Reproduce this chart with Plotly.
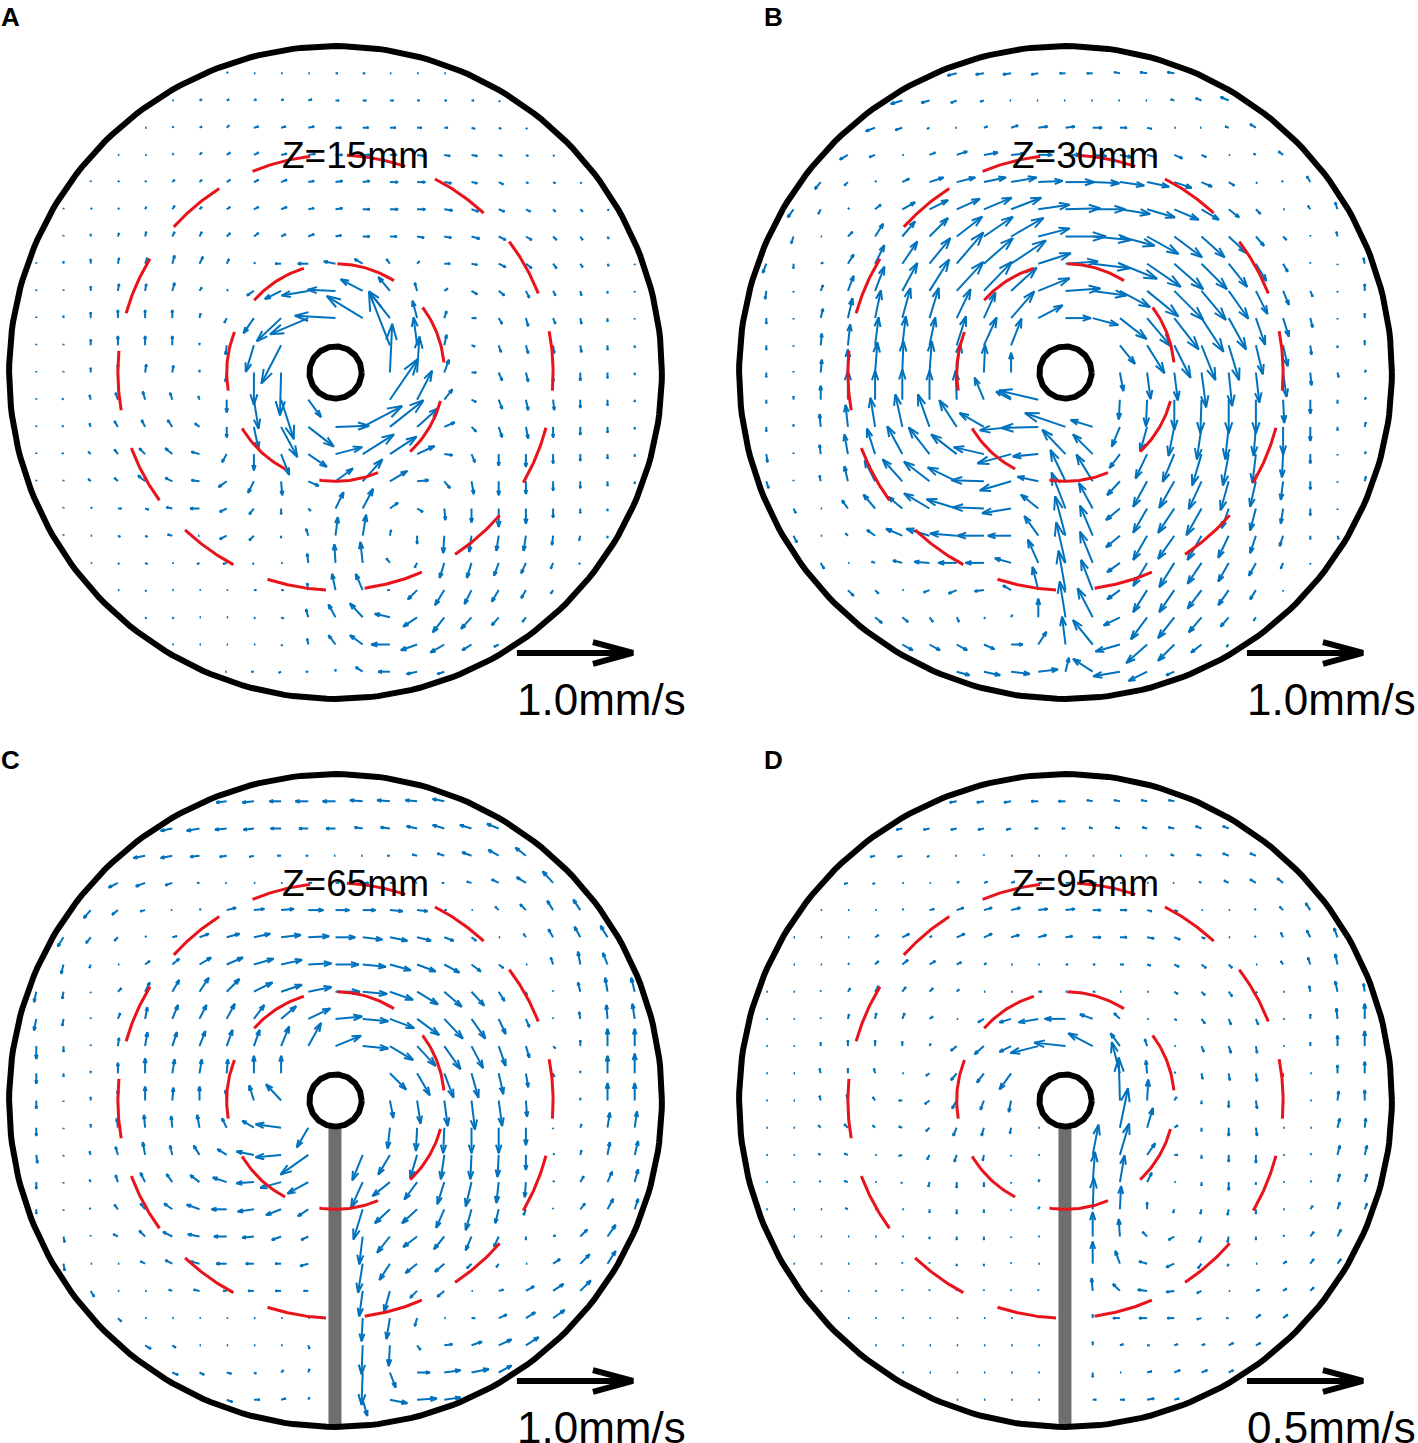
import math
import plotly.graph_objects as go

# first grid column of each row, rows run top (-11) to bottom (+11), tank radius = 12 grid cells
ROW_START = [-4, -6, -7, -8, -9, -10, -10, -11, -11, -11, -11, -11, -11, -11, -11, -11, -10, -10, -9, -8, -7, -6, -4]

# arrow (u, v) per grid point, in percent of the reference arrow, v upward
A_VECTORS = [
    [(1,1),(1,0),(1,0),(1,0),(2,0),(2,0),(1,0),(1,0),(1,0)],
    [(1,0),(2,1),(2,1),(2,1),(2,1),(3,1),(3,0),(3,0),(3,0),(2,0),(2,0),(2,0),(1,-1)],
    [(1,0),(1,1),(2,1),(2,2),(4,1),(4,1),(5,1),(5,0),(5,0),(5,0),(4,0),(3,0),(3,-1),(2,-1),(1,-1)],
    [(1,0),(1,0),(1,1),(2,2),(3,2),(4,2),(5,1),(6,1),(6,0),(6,0),(6,0),(6,-1),(5,-1),(5,-1),(3,-1),(2,-1),(1,-1)],
    [(0,1),(1,1),(1,1),(2,2),(2,2),(3,2),(4,2),(5,2),(5,1),(6,1),(6,1),(7,0),(7,0),(6,-1),(5,-1),(4,-2),(2,-1),(2,-1),(1,-1)],
    [(0,1),(1,1),(1,1),(1,2),(2,3),(2,2),(3,2),(4,2),(5,2),(5,1),(6,1),(6,0),(7,0),(7,0),(7,-1),(6,-2),(5,-2),(4,-2),(2,-2),(2,-2),(1,-1)],
    [(0,1),(0,2),(1,3),(1,4),(2,4),(2,4),(3,3),(4,3),(4,2),(5,2),(5,1),(6,0),(6,0),(6,-1),(6,-1),(7,-2),(6,-3),(5,-3),(3,-3),(2,-3),(1,-2)],
    [(0,1),(0,2),(0,4),(1,5),(2,5),(2,7),(3,6),(2,4),(1,1),(-5,0),(-9,0),(-10,2),(-7,4),(-3,4),(2,2),(5,0),(5,-1),(6,-3),(5,-4),(3,-4),(2,-3),(1,-2),(0,-1)],
    [(0,1),(0,1),(0,4),(1,6),(1,6),(2,7),(2,3),(1,1),(-6,-4),(-14,-7),(-23,-4),(-24,1),(-19,10),(-10,12),(-2,7),(3,2),(5,-3),(5,-4),(3,-6),(2,-4),(1,-4),(0,-2),(0,-1)],
    [(0,1),(0,2),(0,5),(0,7),(0,7),(0,7),(1,4),(-2,-4),(-9,-13),(-21,-20),(-33,-14),(-35,2),(-31,19),(-18,23),(-4,15),(2,6),(4,0),(3,-5),(2,-7),(2,-5),(1,-5),(0,-3),(0,-1)],
    [(0,1),(0,1),(0,5),(0,8),(0,8),(0,8),(0,2),(-1,-8),(-7,-23),(-17,-33),(0,0),(0,0),(0,0),(-18,46),(-3,24),(2,9),(3,-1),(2,-6),(2,-7),(1,-7),(1,-6),(0,-4),(0,-2)],
    [(0,1),(0,1),(0,4),(0,7),(1,7),(1,6),(0,2),(-1,-8),(0,-28),(-1,-37),(0,0),(0,0),(0,0),(2,42),(2,31),(4,11),(4,0),(3,-7),(2,-8),(0,-8),(0,-7),(0,-5),(0,-2)],
    [(0,1),(-1,1),(-1,4),(-2,6),(-2,7),(-2,6),(-1,3),(0,-11),(4,-25),(11,-34),(11,-15),(0,0),(0,0),(24,35),(13,25),(7,9),(4,-2),(3,-8),(2,-9),(1,-9),(0,-7),(0,-5),(0,-2)],
    [(0,1),(-1,1),(-1,3),(-3,5),(-3,6),(-4,6),(-4,3),(0,-9),(4,-19),(14,-26),(22,-17),(29,1),(34,18),(29,23),(18,16),(9,4),(4,-4),(3,-9),(2,-10),(0,-9),(0,-7),(0,-5),(0,-2)],
    [(0,1),(-1,1),(-2,2),(-3,4),(-5,5),(-6,5),(-7,2),(-4,-7),(0,-14),(7,-18),(16,-11),(23,6),(27,17),(23,15),(15,7),(7,-1),(3,-7),(0,-10),(0,-11),(0,-8),(0,-6),(0,-4),(0,-2)],
    [(0,1),(0,1),(-2,2),(-3,3),(-6,5),(-6,3),(-7,1),(-7,-5),(-5,-10),(1,-12),(9,-4),(15,11),(17,19),(15,9),(10,1),(5,-6),(2,-11),(0,-12),(0,-11),(0,-8),(0,-6),(0,-4),(0,-2)],
    [(0,1),(1,1),(3,0),(3,-1),(-5,1),(-8,0),(-6,-3),(-4,-5),(0,-5),(2,-2),(7,14),(9,17),(7,5),(5,-3),(1,-10),(0,-12),(0,-16),(0,-13),(0,-8),(0,-4),(0,-2)],
    [(0,1),(1,0),(2,-1),(2,-1),(-4,1),(-1,0),(-6,-3),(-4,-4),(0,-2),(-2,6),(2,16),(3,18),(1,5),(0,-7),(-1,-15),(-2,-14),(-2,-13),(-2,-13),(-1,-8),(-1,-4),(0,-2)],
    [(1,0),(1,-1),(2,-1),(1,0),(-2,-1),(-3,-1),(-1,-1),(1,0),(-1,8),(-1,16),(-2,18),(-3,4),(-2,-4),(-4,-13),(-4,-13),(-4,-11),(-4,-9),(-2,-5),(-1,-1)],
    [(1,0),(1,-1),(1,0),(1,0),(1,0),(2,0),(2,0),(-1,6),(-3,14),(-6,14),(-2,0),(-8,-8),(-8,-13),(-6,-12),(-6,-10),(-4,-7),(-2,-3)],
    [(1,-1),(1,-1),(1,0),(1,0),(1,-1),(2,-1),(-2,7),(-6,11),(-11,12),(-13,3),(-12,-8),(-10,-13),(-9,-10),(-6,-7),(-3,-4)],
    [(1,0),(1,0),(1,0),(1,0),(1,-1),(-1,5),(-6,8),(-11,8),(-16,0),(-14,-5),(-12,-7),(-8,-5),(-4,-2)],
    [(-1,0),(-2,0),(-2,-1),(-2,0),(0,2),(-6,4),(-10,0),(-9,-2),(-6,-2)],
]

B_VECTORS = [
    [(-8,-2),(-7,-1),(-7,-1),(-6,-1),(-5,0),(-5,0),(-5,1),(-6,1),(-6,1)],
    [(-10,-3),(-7,-2),(-5,-2),(-3,-1),(-1,0),(-1,0),(-1,0),(-1,0),(-1,0),(-1,0),(-3,1),(-5,2),(-7,3)],
    [(-8,-3),(-6,-2),(-2,-1),(-1,0),(3,1),(6,2),(8,1),(8,1),(8,0),(6,0),(4,-1),(1,0),(-1,0),(-3,1),(-5,3)],
    [(-7,-4),(-5,-2),(1,0),(5,2),(9,3),(12,2),(12,1),(12,0),(13,0),(12,-1),(10,-2),(8,-2),(7,-3),(4,-2),(1,0),(-2,1),(-4,3)],
    [(-5,-6),(-3,-3),(1,1),(6,3),(12,4),(16,4),(19,4),(22,4),(21,1),(25,0),(23,-1),(21,-3),(19,-4),(15,-5),(9,-4),(5,-3),(1,-1),(-1,1),(-3,5)],
    [(-5,-7),(-2,-4),(1,1),(5,4),(11,6),(16,8),(20,9),(24,10),(26,10),(27,4),(30,1),(28,0),(26,-4),(24,-7),(21,-9),(15,-9),(9,-7),(4,-4),(1,0),(-2,3),(-2,6)],
    [(-2,-6),(1,0),(4,4),(7,11),(11,13),(16,16),(22,17),(25,17),(28,16),(27,7),(35,0),(33,-3),(30,-8),(27,-15),(24,-18),(20,-18),(15,-14),(7,-8),(3,-3),(0,1),(-1,4)],
    [(-3,-8),(0,-4),(2,1),(5,8),(8,16),(13,19),(18,22),(23,27),(25,22),(30,20),(28,9),(28,2),(32,-4),(32,-13),(29,-20),(25,-22),(22,-22),(16,-20),(9,-15),(4,-7),(0,1),(0,-1),(-1,5)],
    [(-1,-7),(0,-1),(2,5),(5,13),(8,21),(13,24),(17,27),(23,25),(24,25),(22,20),(27,11),(30,2),(29,-4),(26,-14),(27,-22),(25,-25),(21,-25),(17,-24),(10,-20),(5,-12),(2,-5),(0,-1),(0,6)],
    [(0,-5),(0,-1),(2,8),(4,17),(5,24),(7,26),(8,26),(12,25),(10,22),(20,23),(21,11),(22,0),(22,-6),(23,-18),(20,-24),(21,-27),(19,-29),(15,-27),(8,-23),(5,-16),(2,-8),(0,-1),(0,4)],
    [(0,-4),(0,-1),(1,10),(2,18),(3,24),(3,25),(5,24),(8,25),(11,24),(9,23),(0,0),(0,0),(0,0),(13,-16),(15,-24),(14,-28),(12,-30),(9,-30),(6,-25),(4,-18),(1,-8),(0,-2),(0,4)],
    [(0,-4),(0,1),(1,11),(0,20),(2,26),(1,27),(2,27),(3,25),(1,24),(0,17),(0,0),(0,0),(0,0),(3,-16),(3,-23),(3,-24),(4,-30),(3,-29),(3,-26),(3,-21),(1,-11),(1,-4),(1,2)],
    [(0,-3),(0,3),(0,12),(0,25),(0,25),(0,26),(0,25),(-1,25),(-8,19),(-13,7),(-34,8),(0,0),(0,0),(-1,-17),(-1,-23),(0,-26),(-1,-29),(0,-29),(0,-29),(1,-20),(0,-12),(0,-3),(1,2)],
    [(0,-4),(0,2),(-1,11),(-2,19),(-4,25),(-6,28),(-10,28),(-15,23),(-21,12),(-27,-3),(-32,-1),(-35,12),(-19,6),(-7,-17),(-6,-21),(-5,-25),(-4,-28),(-3,-28),(-2,-25),(0,-24),(0,-12),(0,-3),(1,4)],
    [(1,-7),(0,1),(-1,8),(-3,17),(-7,22),(-13,24),(-18,23),(-22,17),(-26,6),(-29,-8),(-22,-2),(-20,21),(-17,17),(-9,-12),(-10,-21),(-10,-24),(-8,-27),(-5,-27),(-3,-25),(-1,-20),(0,-8),(0,-1),(1,2)],
    [(2,-6),(0,1),(-1,5),(-3,13),(-9,18),(-17,19),(-22,17),(-25,12),(-28,1),(-27,-8),(-18,4),(-13,27),(-14,23),(-11,-12),(-12,-22),(-13,-23),(-11,-24),(-7,-25),(-5,-22),(-2,-16),(0,-7),(0,-1),(1,4)],
    [(2,-4),(1,0),(-5,7),(-10,12),(-12,10),(-22,13),(-26,8),(-27,1),(-25,-4),(-15,12),(-12,31),(-12,22),(-12,-10),(-12,-21),(-14,-21),(-13,-23),(-6,-17),(-5,-19),(-2,-13),(0,-6),(0,-1)],
    [(3,-6),(1,0),(-2,2),(-7,5),(-14,6),(-20,6),(-23,2),(-23,0),(-20,0),(-12,17),(-9,34),(-11,26),(-12,-10),(-12,-21),(-14,-20),(-12,-21),(-9,-19),(-5,-15),(-3,-9),(0,-3),(1,-3)],
    [(3,-5),(1,0),(-3,1),(-8,2),(-13,1),(-16,0),(-16,0),(-14,4),(-9,20),(-8,35),(-11,27),(-11,-8),(-12,-20),(-13,-21),(-12,-18),(-9,-16),(-6,-11),(-2,-5),(0,-1)],
    [(5,-5),(3,-3),(1,0),(-5,-2),(-7,-3),(-8,-1),(-7,4),(-5,20),(-6,34),(-10,26),(-11,-8),(-12,-19),(-13,-19),(-12,-16),(-9,-13),(-5,-8),(0,-1)],
    [(6,-5),(5,-4),(3,-4),(2,-4),(1,-1),(1,2),(0,16),(-5,31),(-13,25),(-14,-7),(-14,-19),(-14,-18),(-11,-13),(-7,-8),(-2,-3)],
    [(9,-5),(9,-5),(9,-5),(9,-4),(10,0),(7,11),(-3,24),(-17,21),(-21,-6),(-18,-16),(-14,-14),(-9,-7),(-2,-2)],
    [(11,-3),(14,-3),(16,-2),(17,2),(3,12),(-17,11),(-23,-4),(-16,-8),(-7,-3)],
]

C_VECTORS = [
    [(-9,-1),(-10,-1),(-10,0),(-11,0),(-11,0),(-11,1),(-11,1),(-10,1),(-10,2)],
    [(-10,-2),(-11,-2),(-10,-1),(-9,-1),(-9,0),(-8,0),(-8,0),(-7,1),(-8,1),(-9,2),(-10,3),(-10,3),(-10,4)],
    [(-10,-2),(-10,-2),(-8,-1),(-6,-1),(-4,-1),(-3,0),(-2,0),(-1,0),(-1,0),(-2,0),(-4,1),(-6,2),(-8,3),(-9,5),(-9,7)],
    [(-8,-4),(-8,-3),(-6,-2),(-2,0),(-1,0),(1,0),(1,0),(3,0),(3,0),(5,0),(4,0),(-1,0),(-2,0),(-4,1),(-6,3),(-8,5),(-9,10)],
    [(-6,-7),(-5,-4),(-4,-1),(-1,0),(1,1),(8,2),(9,1),(11,1),(13,0),(12,0),(11,0),(11,-1),(9,-1),(2,0),(1,0),(-3,3),(-5,5),(-5,8),(-6,9)],
    [(-5,-8),(-4,-5),(-3,-3),(1,1),(4,1),(8,3),(11,3),(14,3),(17,2),(18,1),(17,0),(17,-2),(15,-3),(12,-3),(8,-3),(4,-3),(1,0),(-2,3),(-4,7),(-5,9),(-6,10)],
    [(-2,-8),(-1,-3),(1,0),(4,3),(6,5),(10,6),(14,6),(17,5),(18,4),(20,1),(20,0),(20,-2),(18,-5),(16,-6),(13,-7),(8,-6),(4,-3),(1,0),(-2,6),(-2,11),(-4,10)],
    [(-2,-9),(-1,-6),(0,-1),(3,3),(4,8),(6,10),(8,12),(11,11),(16,8),(18,6),(20,4),(21,0),(21,-2),(20,-7),(18,-11),(15,-13),(11,-12),(5,-8),(1,-3),(0,1),(-2,8),(-2,12),(-3,12)],
    [(-2,-10),(-1,-6),(0,1),(2,5),(2,10),(5,12),(6,12),(7,13),(9,12),(13,11),(19,9),(23,2),(22,-2),(21,-8),(19,-14),(16,-17),(12,-17),(6,-13),(3,-7),(0,1),(-1,6),(-1,12),(-2,13)],
    [(0,-11),(0,-5),(0,1),(1,7),(2,12),(4,12),(5,13),(5,14),(5,14),(7,17),(11,20),(22,9),(22,-2),(20,-12),(16,-17),(14,-20),(10,-19),(6,-17),(3,-10),(2,-2),(0,5),(0,15),(0,15)],
    [(0,-9),(0,-3),(0,2),(0,9),(0,13),(2,12),(2,12),(1,12),(0,15),(0,15),(0,0),(0,0),(0,0),(14,-14),(11,-19),(8,-21),(6,-21),(4,-18),(2,-12),(1,-3),(0,2),(0,15),(0,17)],
    [(0,-7),(0,-1),(0,3),(0,9),(0,12),(1,11),(0,12),(-1,9),(-4,13),(-13,14),(0,0),(0,0),(0,0),(3,-15),(3,-20),(3,-22),(3,-25),(3,-22),(1,-14),(0,-2),(0,2),(0,15),(0,15)],
    [(0,-7),(0,-1),(0,3),(-1,8),(-1,11),(-1,10),(-2,11),(-4,8),(-10,6),(-22,3),(-10,-17),(0,0),(0,0),(-2,-18),(-1,-20),(-1,-22),(0,-22),(0,-22),(0,-15),(0,-1),(1,3),(2,13),(2,14)],
    [(1,-7),(0,-1),(-1,3),(-2,7),(-2,11),(-2,8),(-5,8),(-8,5),(-15,3),(-22,-2),(-24,-17),(0,0),(-9,-22),(-10,-17),(-6,-20),(-3,-21),(-1,-21),(-1,-19),(0,-13),(1,1),(1,4),(2,11),(3,12)],
    [(0,-6),(0,-1),(-1,2),(-2,6),(-4,8),(-5,7),(-8,6),(-12,4),(-15,-1),(-18,-5),(-18,-10),(0,0),(-10,-22),(-15,-12),(-11,-15),(-6,-19),(-5,-21),(-2,-18),(-1,-13),(1,1),(3,5),(4,9),(3,11)],
    [(0,-4),(0,-1),(-1,1),(-3,4),(-4,5),(-7,5),(-11,4),(-13,0),(-14,-2),(-13,-5),(-9,-6),(0,0),(-8,-26),(-13,-12),(-13,-12),(-7,-16),(-5,-18),(-3,-12),(-2,-5),(0,1),(4,5),(5,9),(3,9)],
    [(1,-5),(0,1),(-4,2),(-5,5),(-8,4),(-10,2),(-11,0),(-10,-1),(-8,-3),(-6,-3),(0,0),(-3,-24),(-11,-14),(-12,-9),(-9,-11),(-5,-12),(-4,-9),(0,-3),(2,1),(6,6),(7,10)],
    [(1,-6),(1,0),(1,0),(-4,2),(-6,3),(-8,2),(-9,0),(-7,0),(-5,0),(-7,-2),(0,0),(-4,-25),(-9,-14),(-10,-8),(-8,-7),(-4,-4),(-2,-3),(1,0),(6,4),(8,8),(7,11)],
    [(3,-5),(1,0),(1,0),(-3,1),(-5,1),(-3,0),(-5,0),(-5,0),(-4,0),(0,0),(-3,-22),(-5,-18),(-6,-6),(-6,-5),(1,0),(4,1),(7,4),(9,6),(9,9)],
    [(3,-3),(1,0),(1,0),(1,0),(1,0),(1,0),(1,0),(1,0),(0,0),(-1,-20),(-3,-18),(-2,-7),(1,0),(3,0),(7,3),(8,5),(10,7)],
    [(5,-3),(3,-2),(1,0),(1,0),(1,0),(1,0),(1,-3),(0,0),(-1,-25),(-1,-18),(3,-4),(7,1),(9,3),(11,5),(11,7)],
    [(5,-2),(4,-2),(4,-1),(2,-1),(2,2),(1,3),(0,0),(-1,-28),(5,-13),(11,0),(14,2),(15,3),(11,6)],
    [(5,-2),(5,0),(4,1),(1,2),(0,0),(4,-14),(15,-3),(17,1),(14,2)],
]

D_VECTORS = [
    [(-6,-1),(-6,-1),(-6,-1),(-6,0),(-6,0),(-5,1),(-5,1),(-5,1),(-5,1)],
    [(-5,-1),(-5,-1),(-5,-1),(-5,-1),(-4,-1),(-3,0),(-3,0),(-3,1),(-4,1),(-4,1),(-5,1),(-5,2),(-5,2)],
    [(-4,-1),(-4,-1),(-2,-1),(-1,0),(0,1),(1,0),(1,0),(1,0),(1,0),(1,0),(-1,0),(-3,1),(-4,1),(-5,2),(-5,2)],
    [(-3,-1),(-2,-1),(1,0),(1,0),(2,1),(3,1),(3,1),(3,0),(4,0),(3,0),(2,0),(1,0),(-1,0),(-2,1),(-4,2),(-5,3),(-5,4)],
    [(1,0),(1,0),(1,0),(1,1),(4,1),(6,2),(7,2),(8,2),(8,1),(8,1),(7,0),(6,0),(4,-1),(3,-1),(1,0),(1,0),(-1,1),(-3,3),(-4,6)],
    [(1,0),(1,0),(1,0),(3,2),(6,3),(2,1),(7,3),(7,3),(7,2),(7,2),(6,1),(7,0),(6,0),(6,-1),(5,-2),(3,-1),(1,0),(-1,1),(-2,4),(-3,6),(-3,8)],
    [(1,0),(1,0),(1,1),(3,3),(5,4),(5,3),(4,2),(2,1),(1,0),(1,0),(2,0),(2,0),(3,0),(3,-1),(4,-2),(4,-3),(3,-3),(1,0),(-2,3),(-2,6),(-2,9)],
    [(1,0),(1,0),(0,1),(2,3),(3,5),(3,4),(3,3),(2,2),(1,0),(1,0),(3,0),(1,0),(2,0),(1,0),(1,0),(3,-2),(3,-3),(3,-4),(1,-1),(1,0),(-1,5),(-2,9),(-1,7)],
    [(1,0),(1,0),(0,1),(1,4),(1,5),(2,5),(3,2),(1,0),(-5,-3),(-10,-3),(-17,-3),(-18,0),(-11,4),(-5,5),(1,0),(2,-1),(3,-4),(2,-5),(2,-5),(1,0),(0,4),(-1,9),(0,13)],
    [(1,0),(1,0),(0,3),(0,5),(0,5),(0,4),(1,2),(-5,-4),(-8,-7),(-10,-5),(-24,-6),(-27,3),(-21,11),(-8,11),(-2,6),(1,0),(2,-5),(2,-6),(1,-6),(1,0),(0,3),(0,9),(0,13)],
    [(1,0),(1,0),(-1,4),(0,4),(-1,4),(1,0),(-3,-2),(-5,-6),(-6,-8),(-10,-14),(0,0),(0,0),(0,0),(-7,27),(-1,11),(1,1),(1,-5),(1,-6),(1,-7),(0,-3),(1,0),(0,7),(0,10)],
    [(1,0),(1,0),(-1,4),(-1,5),(-2,3),(-3,0),(-4,-3),(-4,-7),(-3,-8),(-2,-10),(0,0),(0,0),(0,0),(-1,37),(1,18),(2,3),(0,-3),(0,-6),(1,-7),(0,-3),(1,0),(1,8),(0,9)],
    [(1,0),(1,0),(-2,2),(-3,3),(-2,2),(-3,1),(-3,-3),(-3,-7),(-2,-7),(-1,-5),(1,0),(0,0),(0,0),(7,34),(5,17),(3,2),(0,-3),(0,-7),(1,-7),(1,0),(1,0),(2,8),(1,8)],
    [(1,0),(1,0),(-2,1),(-3,1),(1,0),(-3,-1),(-2,-4),(-2,-6),(-1,-5),(0,-1),(1,0),(0,0),(5,26),(8,27),(7,10),(3,0),(0,-3),(0,-6),(0,-7),(1,0),(1,1),(2,8),(2,8)],
    [(1,0),(1,0),(-1,1),(-3,1),(1,0),(-1,-1),(-1,-4),(0,-5),(0,-4),(0,-1),(1,2),(0,0),(2,26),(4,23),(4,8),(1,0),(0,-3),(0,-7),(0,-2),(1,0),(1,1),(2,7),(2,7)],
    [(1,0),(1,0),(1,0),(-2,1),(1,0),(1,0),(0,-3),(0,-4),(0,-3),(0,-1),(1,2),(0,0),(1,27),(1,20),(0,6),(-1,-3),(-1,-4),(-1,-5),(0,-4),(1,0),(2,3),(2,6),(2,5)],
    [(1,0),(1,0),(1,0),(1,0),(1,0),(0,-2),(0,-3),(0,-3),(0,-1),(1,0),(0,0),(0,21),(-1,15),(-4,4),(-5,-3),(-2,-5),(-1,-5),(0,-3),(1,1),(3,4),(3,6)],
    [(1,0),(1,0),(1,0),(1,0),(0,1),(0,1),(0,-2),(0,-2),(0,1),(1,0),(0,0),(0,19),(-4,11),(-7,2),(-7,-3),(-3,-4),(-1,-2),(1,0),(3,2),(3,4),(3,4)],
    [(1,0),(1,0),(1,0),(0,1),(0,1),(0,1),(0,1),(0,1),(0,1),(0,0),(-1,11),(-6,6),(-8,1),(-7,-1),(-4,-2),(1,0),(3,1),(3,2),(3,3)],
    [(1,0),(1,0),(1,0),(1,0),(1,0),(1,0),(1,0),(0,1),(0,0),(0,3),(-6,0),(-7,0),(-6,0),(-4,-1),(-2,0),(4,3),(4,3)],
    [(1,0),(1,0),(1,0),(1,0),(1,0),(1,0),(1,0),(0,0),(0,3),(3,1),(2,0),(3,1),(3,1),(4,2),(4,2)],
    [(1,0),(1,0),(1,0),(1,0),(1,0),(1,0),(0,0),(0,-4),(1,0),(4,1),(5,2),(5,2),(4,2)],
    [(1,0),(1,0),(1,0),(1,0),(0,0),(3,0),(4,0),(6,1),(4,1)],
]

PANEL_LETTERS = ["A", "B", "C", "D"]
PANEL_VECTORS = [A_VECTORS, B_VECTORS, C_VECTORS, D_VECTORS]
DEPTH_LABELS = ["Z=15mm", "Z=30mm", "Z=65mm", "Z=95mm"]
SCALE_LABELS = ["1.0mm/s", "1.0mm/s", "1.0mm/s", "0.5mm/s"]
HAS_BAFFLE = [False, False, True, True]

# red dashed rings: start angle of each dash (deg) and dash length
OUTER_RING_STARTS = [112.4, 87, 62.8, 37, 10.9, -14.7, -41, -66.6, -92.5, -118, -144, -170, 164.2, 138]
INNER_RING_STARTS = [89, 36.8, -15.2, -67, -117.6, -170.4, 138.4]
OUTER_DASH = 15.7
INNER_DASH = 31.5

W, H = 1418, 1443
CELL = 27.2  # px per grid cell
CENTERS = [(335.5, 372.5), (1065.5, 372.5), (335.5, 1100.5), (1065.5, 1100.5)]
SPLIT_X, SPLIT_Y = 708, 736
TANK_R, OUTER_R, INNER_R, HOLE_R = 12.0, 8.0, 4.0, 0.96
REF_LEN = 116 / CELL  # grid cells for a 100 % arrow

BLUE = "#0072BD"
RED = "#E8131B"
GREY = "#6E6E6E"
FONT = "Liberation Sans"


def arc(radius, start, sweep, n):
    xs, ys = [], []
    for k in range(n + 1):
        a = math.radians(start + sweep * k / n)
        xs.append(radius * math.cos(a))
        ys.append(radius * math.sin(a))
    return xs, ys


def quiver_lines(rows):
    xs, ys = [], []
    scale = REF_LEN / 100
    for r, row in enumerate(rows):
        y0 = 11 - r
        for c, (u, v) in enumerate(row):
            if u == 0 and v == 0:
                continue
            x0 = ROW_START[r] + c
            du, dv = u * scale, v * scale
            tx, ty = x0 + du, y0 + dv
            xs += [x0, tx, None]
            ys += [y0, ty, None]
            # head as in matlab quiver
            xs += [tx - 0.33 * (du + 0.33 * dv), tx, tx - 0.33 * (du - 0.33 * dv), None]
            ys += [ty - 0.33 * (dv - 0.33 * du), ty, ty - 0.33 * (dv + 0.33 * du), None]
    return xs, ys


fig = go.Figure()
annotations = []
LETTER_POS = [(10, 17), (773, 17), (10, 760), (773, 760)]

for p in range(4):
    cx, cy = CENTERS[p]
    left, right = (0, SPLIT_X) if p % 2 == 0 else (SPLIT_X, W)
    top, bottom = (0, SPLIT_Y) if p < 2 else (SPLIT_Y, H)
    suffix = "" if p == 0 else str(p + 1)
    xa, ya = "x" + suffix, "y" + suffix
    fig.update_layout({
        "xaxis" + suffix: dict(domain=[left / W, right / W], range=[(left - cx) / CELL, (right - cx) / CELL],
                               visible=False, fixedrange=True, anchor=ya),
        "yaxis" + suffix: dict(domain=[1 - bottom / H, 1 - top / H], range=[(cy - bottom) / CELL, (cy - top) / CELL],
                               visible=False, fixedrange=True, anchor=xa),
    })

    qx, qy = quiver_lines(PANEL_VECTORS[p])
    fig.add_trace(go.Scatter(x=qx, y=qy, mode="lines", line=dict(color=BLUE, width=2), xaxis=xa, yaxis=ya))

    if HAS_BAFFLE[p]:
        fig.add_trace(go.Scatter(x=[-0.02, -0.02], y=[-HOLE_R, -TANK_R], mode="lines", line=dict(color=GREY, width=13),
                                 xaxis=xa, yaxis=ya))

    for radius, starts, dash in [(OUTER_R, OUTER_RING_STARTS, OUTER_DASH), (INNER_R, INNER_RING_STARTS, INNER_DASH)]:
        rx, ry = [], []
        for s in starts:
            ax, ay = arc(radius, s, -dash, 24)
            rx += ax + [None]
            ry += ay + [None]
        fig.add_trace(go.Scatter(x=rx, y=ry, mode="lines", line=dict(color=RED, width=3), xaxis=xa, yaxis=ya))

    for radius in [TANK_R, HOLE_R]:
        ax, ay = arc(radius, 0, 360, 240)
        fig.add_trace(go.Scatter(x=ax, y=ay, mode="lines", line=dict(color="black", width=6), xaxis=xa, yaxis=ya))

    # reference arrow
    sx0, sy0 = 6.67, -10.31
    sx1 = sx0 + REF_LEN
    fig.add_trace(go.Scatter(x=[sx0, sx1 - 0.1, None, sx1 - 1.47, sx1, sx1 - 1.47],
                             y=[sy0, sy0, None, sy0 + 0.4, sy0, sy0 - 0.4],
                             mode="lines", line=dict(color="black", width=6), xaxis=xa, yaxis=ya))

    annotations.append(dict(x=0.717, y=7.97, xref=xa, yref=ya, text=DEPTH_LABELS[p], showarrow=False,
                            font=dict(family=FONT, size=37, color="black")))
    annotations.append(dict(x=9.78, y=-12.04, xref=xa, yref=ya, text=SCALE_LABELS[p], showarrow=False,
                            font=dict(family=FONT, size=44, color="black")))
    lx, ly = LETTER_POS[p]
    annotations.append(dict(x=lx / W, y=1 - ly / H, xref="paper", yref="paper", xanchor="center", yanchor="middle",
                            text="<b>%s</b>" % PANEL_LETTERS[p], showarrow=False,
                            font=dict(family=FONT, size=26, color="black")))

fig.update_layout(width=W, height=H, margin=dict(l=0, r=0, t=0, b=0), paper_bgcolor="white", plot_bgcolor="white",
                  showlegend=False, hovermode=False, annotations=annotations)

fig.write_html("out.html", config=dict(displayModeBar=False),
               post_script="document.body.style.margin='0';document.documentElement.style.overflow='hidden';")
